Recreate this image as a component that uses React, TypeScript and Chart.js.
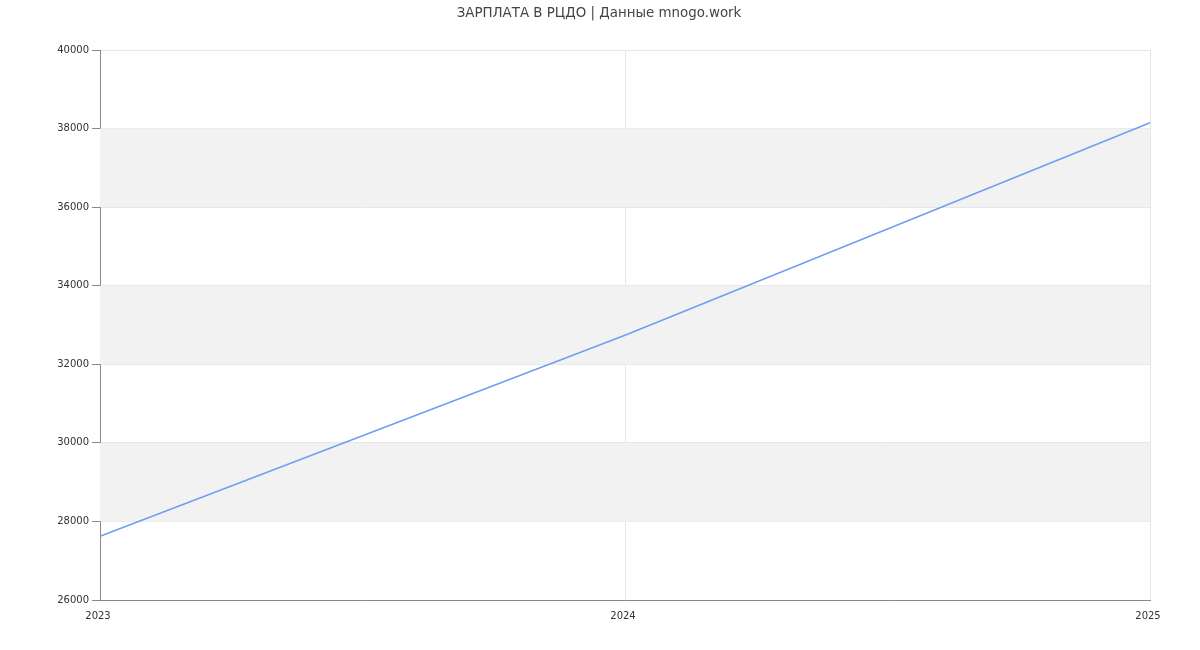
import React, { useEffect, useRef } from "react";
import { Chart, registerables } from "chart.js";

Chart.register(...registerables);

const years = ["2023", "2024", "2025"];
const salary = [27620, 32740, 38150];
const yTicks = [26000, 28000, 30000, 32000, 34000, 36000, 38000, 40000];
const titleText = "ЗАРПЛАТА В РЦДО | Данные mnogo.work";

// Shade every other 2000-wide band behind the plot
const bandPlugin = {
  id: "bands",
  beforeDatasetsDraw(chart: any) {
    const { ctx, chartArea, scales } = chart;
    const y = scales.y;
    ctx.save();
    ctx.fillStyle = "#f2f2f2";
    for (let i = 1; i < yTicks.length - 1; i += 2) {
      const top = y.getPixelForValue(yTicks[i + 1]);
      const bottom = y.getPixelForValue(yTicks[i]);
      ctx.fillRect(chartArea.left, top, chartArea.right - chartArea.left, bottom - top);
    }
    ctx.restore();
  },
};

// Title centred across the whole canvas width
const titlePlugin = {
  id: "pageTitle",
  afterDraw(chart: any) {
    const { ctx, width } = chart;
    ctx.save();
    ctx.font = "13.4px 'DejaVu Sans'";
    ctx.fillStyle = "#444";
    ctx.textAlign = "center";
    ctx.textBaseline = "alphabetic";
    ctx.fillText(titleText, width / 2 - 1, 16.5);
    ctx.restore();
  },
};

export default function App() {
  const ref = useRef<HTMLCanvasElement | null>(null);

  useEffect(() => {
    document.body.style.margin = "0";
    const chart = new Chart(ref.current!, {
      type: "line",
      data: {
        labels: years,
        datasets: [
          {
            data: salary,
            borderColor: "#729ef2",
            borderWidth: 1.6,
            pointRadius: 0,
            fill: false,
            tension: 0,
          },
        ],
      },
      options: {
        animation: false,
        responsive: false,
        layout: { padding: { left: 0, right: 50, top: 50, bottom: 0 } },
        plugins: {
          legend: { display: false },
          tooltip: { enabled: false },
          title: { display: false },
        },
        scales: {
          x: {
            type: "category",
            offset: false,
            grid: { color: "#e6e6e6", drawTicks: false },
            border: { color: "#888", width: 1 },
            ticks: {
              color: "#333",
              font: { family: "DejaVu Sans", size: 10 },
              padding: 10,
              labelOffset: -2,
              maxRotation: 0,
            },
            afterFit: (s: any) => {
              s.height = 50;
            },
          },
          y: {
            min: 26000,
            max: 40000,
            grid: { color: "#e6e6e6", tickColor: "#888", tickLength: 8 },
            border: { color: "#888", width: 1 },
            ticks: {
              stepSize: 2000,
              color: "#333",
              font: { family: "DejaVu Sans", size: 10 },
              padding: 3,
              callback: (v: any) => String(v),
            },
            afterFit: (s: any) => {
              s.width = 100;
            },
          },
        },
      },
      plugins: [bandPlugin, titlePlugin],
    });
    return () => chart.destroy();
  }, []);

  return (
    <div style={{ position: "absolute", left: 0, top: 0, width: 1200, height: 650 }}>
      <canvas ref={ref} width={1200} height={650} />
    </div>
  );
}
